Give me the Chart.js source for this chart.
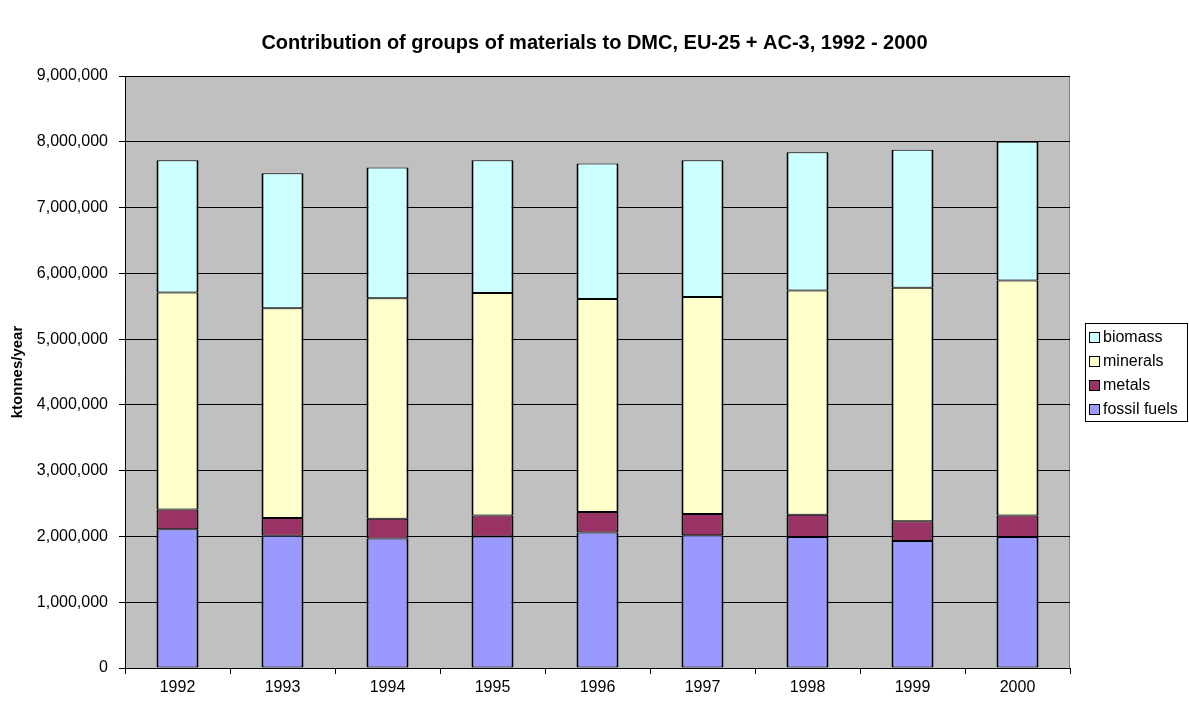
<!DOCTYPE html>
<html>
<head>
<meta charset="utf-8">
<script src="https://cdn.jsdelivr.net/npm/chart.js@4/dist/chart.umd.min.js"></script>
<style>
  html, body { margin: 0; padding: 0; background: #fff; }
  #wrap { width: 1189px; height: 702px; }
</style>
</head>
<body>
<div id="wrap"><canvas id="dmcCanvas" width="1189" height="702"></canvas></div>
<script>
var years = ["1992", "1993", "1994", "1995", "1996", "1997", "1998", "1999", "2000"];
var fossilFuels = [2110000, 2010000, 1970000, 2000000, 2060000, 2020000, 1990000, 1930000, 1990000];
var metals = [300000, 270000, 300000, 320000, 310000, 320000, 340000, 300000, 330000];
var minerals = [3300000, 3190000, 3350000, 3380000, 3240000, 3300000, 3410000, 3550000, 3570000];
var biomass = [2010000, 2050000, 1990000, 2020000, 2060000, 2080000, 2100000, 2100000, 2110000];
var yTicks = [0, 1000000, 2000000, 3000000, 4000000, 5000000, 6000000, 7000000, 8000000, 9000000];

var font = "'Liberation Sans', Arial, sans-serif";

// grey plot background + grey frame on top/right
var plotBack = {
  id: "plotBack",
  beforeDraw: function(chart) {
    var a = chart.chartArea, ctx = chart.ctx;
    ctx.save();
    ctx.fillStyle = "#c0c0c0";
    ctx.fillRect(a.left, a.top, a.right - a.left, a.bottom - a.top);
    ctx.strokeStyle = "#808080";
    ctx.lineWidth = 1;
    ctx.beginPath();
    ctx.moveTo(a.left, a.top + 0.5);
    ctx.lineTo(a.right - 0.5, a.top + 0.5);
    ctx.lineTo(a.right - 0.5, a.bottom);
    ctx.stroke();
    ctx.restore();
  }
};

// boxed legend, top series first
var boxLegend = {
  id: "boxLegend",
  afterDraw: function(chart) {
    var ctx = chart.ctx;
    var x = 1085, y = 323, w = 103, h = 99;
    ctx.save();
    ctx.fillStyle = "#fff";
    ctx.fillRect(x, y, w, h);
    ctx.strokeStyle = "#000";
    ctx.lineWidth = 1;
    ctx.strokeRect(x + 0.5, y + 0.5, w - 1, h - 1);
    ctx.font = "16px " + font;
    ctx.textBaseline = "middle";
    var ds = chart.data.datasets.slice().reverse();
    for (var i = 0; i < ds.length; i++) {
      var cy = y + 14 + i * 24;
      ctx.fillStyle = ds[i].backgroundColor;
      ctx.fillRect(x + 4, cy - 5, 11, 11);
      ctx.strokeStyle = "#000";
      ctx.strokeRect(x + 4.5, cy - 4.5, 10, 10);
      ctx.fillStyle = "#000";
      ctx.fillText(ds[i].label, x + 18, cy + 1);
    }
    ctx.restore();
  }
};

function bar(label, data, color) {
  return {
    label: label,
    data: data,
    backgroundColor: color,
    borderColor: "#000",
    borderWidth: { left: 2, right: 2, top: 1, bottom: 1 },
    borderSkipped: false,
    barPercentage: 0.4,
    categoryPercentage: 1.0
  };
}

var ctx = document.getElementById("dmcCanvas").getContext("2d");
var chart = new Chart(ctx, {
  type: "bar",
  data: {
    labels: years,
    datasets: [
      bar("fossil fuels", fossilFuels, "#9999ff"),
      bar("metals", metals, "#993366"),
      bar("minerals", minerals, "#ffffcc"),
      bar("biomass", biomass, "#ccffff")
    ]
  },
  options: {
    responsive: false,
    animation: false,
    layout: { padding: 0 },
    plugins: {
      legend: { display: false },
      tooltip: { enabled: false },
      title: {
        display: true,
        text: "Contribution of groups of materials to DMC, EU-25 + AC-3, 1992 - 2000",
        color: "#000",
        font: { family: font, size: 20, weight: "bold" },
        padding: { top: 31, bottom: 21 }
      }
    },
    scales: {
      x: {
        stacked: true,
        grid: { offset: true, drawOnChartArea: false, color: "#000", tickLength: 6 },
        border: { color: "#000", width: 1 },
        ticks: { color: "#000", font: { family: font, size: 16 }, padding: 4 },
        afterFit: function(s) { s.height = 34; }
      },
      y: {
        stacked: true,
        min: 0,
        max: 9000000,
        afterBuildTicks: function(s) { s.ticks = yTicks.map(function(v) { return { value: v }; }); },
        grid: { color: "#000", tickLength: 6 },
        border: { color: "#000", width: 1 },
        ticks: {
          color: "#000",
          font: { family: font, size: 16 },
          padding: 11,
          callback: function(v) { return v.toLocaleString("en-US"); }
        },
        title: {
          display: true,
          text: "ktonnes/year",
          color: "#000",
          font: { family: font, size: 15, weight: "bold" },
          padding: { top: 9, bottom: 0 }
        },
        afterFit: function(s) { s.width = 125; }
      },
      // empty right-hand box that keeps room for the legend
      legendRoom: {
        type: "linear",
        position: "right",
        display: true,
        grid: { display: false },
        border: { display: false },
        ticks: { display: false },
        afterFit: function(s) { s.width = 119; }
      }
    }
  },
  plugins: [plotBack, boxLegend]
});
</script>
</body>
</html>
